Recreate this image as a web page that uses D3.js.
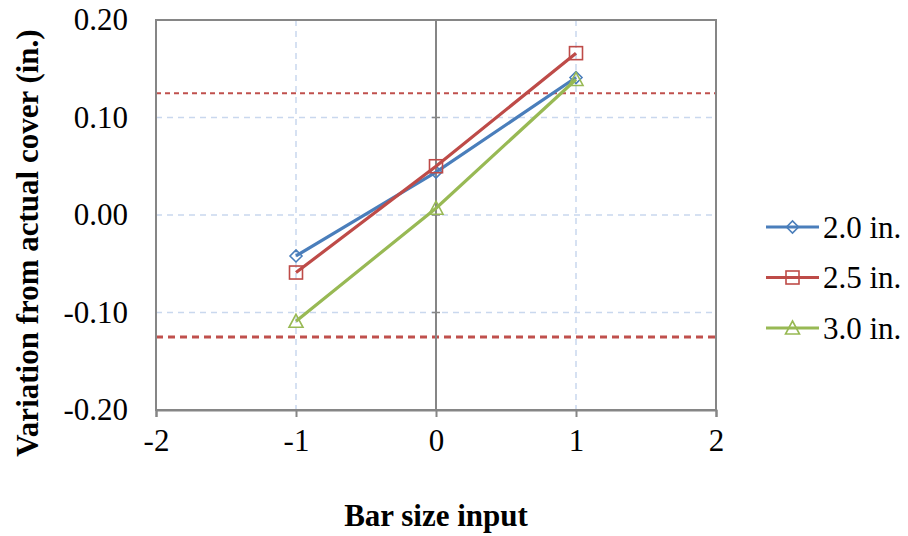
<!DOCTYPE html>
<html>
<head>
<meta charset="utf-8">
<script src="https://cdn.jsdelivr.net/npm/d3@7"></script>
<style>
  @font-face { font-family: "ChartSerif"; src: local("Liberation Serif"), local("LiberationSerif"), local("Times New Roman"); font-weight: normal; }
  @font-face { font-family: "ChartSerif"; src: local("Liberation Serif Bold"), local("LiberationSerif-Bold"), local("Times New Roman Bold"); font-weight: bold; }
  body { margin: 0; background: #fff; }
</style>
</head>
<body>
<svg id="chart" width="908" height="536" style="font-family: 'Liberation Serif', ChartSerif, Tinos, serif"></svg>
<script>
// chart values
const xInputs = [-1, 0, 1];
const seriesNames = ["2.0 in.", "2.5 in.", "3.0 in."];
const values20 = [-0.042, 0.044, 0.141];
const values25 = [-0.059, 0.050, 0.166];
const values30 = [-0.109, 0.007, 0.139];
const toleranceLines = [0.125, -0.125];
const xTicks = [-2, -1, 0, 1, 2];
const yTicks = [-0.20, -0.10, 0.00, 0.10, 0.20];

const colors = ["#4A7EBB", "#BE4B48", "#98B954"];
const symbols = ["diamond", "square", "triangle"];
const FONT = "'Liberation Serif', ChartSerif, Tinos, serif";

let margin = {top: 20, right: 192, bottom: 126, left: 156},
    width = 908 - margin.left - margin.right,
    height = 536 - margin.top - margin.bottom;

let svg = d3.select("#chart");

let g = svg.append("g")
    .attr("transform", `translate(${margin.left}, ${margin.top})`);

let x = d3.scaleLinear().domain([-2, 2]).range([0, width]);
let y = d3.scaleLinear().domain([-0.2, 0.2]).range([height, 0]);

// gridlines
g.selectAll(".hgrid")
    .data(yTicks.filter(d => Math.abs(d) < 0.15))
    .enter().append("line")
    .attr("x1", 0).attr("x2", width)
    .attr("y1", d => y(d)).attr("y2", d => y(d))
    .attr("stroke", "#C9D8EE").attr("stroke-width", 1.5)
    .attr("stroke-dasharray", "6,5");
g.selectAll(".vgrid")
    .data(xTicks.filter(d => d !== 0 && Math.abs(d) < 2))
    .enter().append("line")
    .attr("y1", 0).attr("y2", height)
    .attr("x1", d => x(d)).attr("x2", d => x(d))
    .attr("stroke", "#C9D8EE").attr("stroke-width", 1.5)
    .attr("stroke-dasharray", "6,5");

// tolerance lines
g.selectAll(".tol")
    .data(toleranceLines)
    .enter().append("line")
    .attr("x1", 0).attr("x2", width)
    .attr("y1", d => y(d)).attr("y2", d => y(d))
    .attr("stroke", "#C0504D")
    .attr("stroke-width", (d, i) => i === 0 ? 2 : 3)
    .attr("stroke-dasharray", (d, i) => i === 0 ? "5,4" : "7,5");

// vertical axis line at x = 0 with small cross ticks
g.append("line")
    .attr("x1", x(0)).attr("x2", x(0))
    .attr("y1", 0).attr("y2", height)
    .attr("stroke", "#868686").attr("stroke-width", 2);
g.selectAll(".ytick")
    .data(yTicks)
    .enter().append("line")
    .attr("x1", x(0) - 4).attr("x2", x(0) + 4)
    .attr("y1", d => y(d)).attr("y2", d => y(d))
    .attr("stroke", "#868686").attr("stroke-width", 1.5);

// plot frame
g.append("rect")
    .attr("width", width).attr("height", height)
    .attr("fill", "none")
    .attr("stroke", "#868686").attr("stroke-width", 2);

// bottom axis
let xAxis = g.append("g")
    .attr("transform", `translate(0, ${height})`)
    .call(d3.axisBottom(x).tickValues(xTicks).tickSize(7).tickPadding(12)
        .tickFormat(d => (d < 0 ? "-" : "") + Math.abs(d)));
xAxis.attr("font-family", null).attr("font-size", null);
xAxis.select(".domain").attr("stroke", "#868686").attr("stroke-width", 2);
xAxis.selectAll(".tick line").attr("stroke", "#868686").attr("stroke-width", 2);
xAxis.selectAll("text")
    .attr("fill", "#000")
    .style("font-family", FONT)
    .style("font-size", "31px");

// left labels
let yAxis = g.append("g")
    .call(d3.axisLeft(y).tickValues(yTicks).tickSize(0).tickPadding(28)
        .tickFormat(d => (d < 0 ? "-" : "") + Math.abs(d).toFixed(2)));
yAxis.attr("font-family", null).attr("font-size", null);
yAxis.select(".domain").remove();
yAxis.selectAll("text")
    .attr("fill", "#000")
    .style("font-family", FONT)
    .style("font-size", "31px");

// axis titles
svg.append("text")
    .attr("x", margin.left + width / 2)
    .attr("y", 526)
    .attr("text-anchor", "middle")
    .style("font-family", FONT)
    .style("font-size", "31px")
    .style("font-weight", "bold")
    .text("Bar size input");

svg.append("text")
    .attr("transform", `translate(38, ${margin.top + height / 2 + 28}) rotate(-90)`)
    .attr("text-anchor", "middle")
    .style("font-family", FONT)
    .style("font-size", "31px")
    .style("font-weight", "bold")
    .text("Variation from actual cover (in.)");

// series
let seriesData = [values20, values25, values30].map((vals, i) => ({
    name: seriesNames[i],
    color: colors[i],
    symbol: symbols[i],
    points: vals.map((v, j) => ({x: xInputs[j], y: v}))
}));

let line = d3.line()
    .x(d => x(d.x))
    .y(d => y(d.y));

function marker(sel, kind, color) {
    if (kind === "diamond") {
        sel.append("path").attr("d", "M-6,0 L0,-6 L6,0 L0,6 Z");
    } else if (kind === "square") {
        sel.append("rect").attr("x", -6.5).attr("y", -6.5).attr("width", 13).attr("height", 13);
    } else {
        sel.append("path").attr("d", "M0,-7 L7,6 L-7,6 Z");
    }
    sel.selectAll("path, rect")
        .attr("fill", "none")
        .attr("stroke", color)
        .attr("stroke-width", 1.6);
}

seriesData.forEach(s => {
    g.append("path")
        .attr("d", line(s.points))
        .attr("fill", "none")
        .attr("stroke", s.color)
        .attr("stroke-width", 3.2);
    s.points.forEach(p => {
        let m = g.append("g").attr("transform", `translate(${x(p.x)}, ${y(p.y)})`);
        marker(m, s.symbol, s.color);
    });
});

// legend
let legend = svg.append("g").attr("transform", "translate(766, 227)");
seriesData.forEach((s, i) => {
    let row = legend.append("g").attr("transform", `translate(0, ${i * 50.5})`);
    row.append("line")
        .attr("x1", 0).attr("x2", 53)
        .attr("stroke", s.color).attr("stroke-width", 3.2);
    let m = row.append("g").attr("transform", "translate(26.5, 0)");
    marker(m, s.symbol, s.color);
    row.append("text")
        .attr("x", 57).attr("y", 0)
        .attr("dy", "0.35em")
        .style("font-family", FONT)
        .style("font-size", "31px")
        .text(s.name);
});
</script>
</body>
</html>
